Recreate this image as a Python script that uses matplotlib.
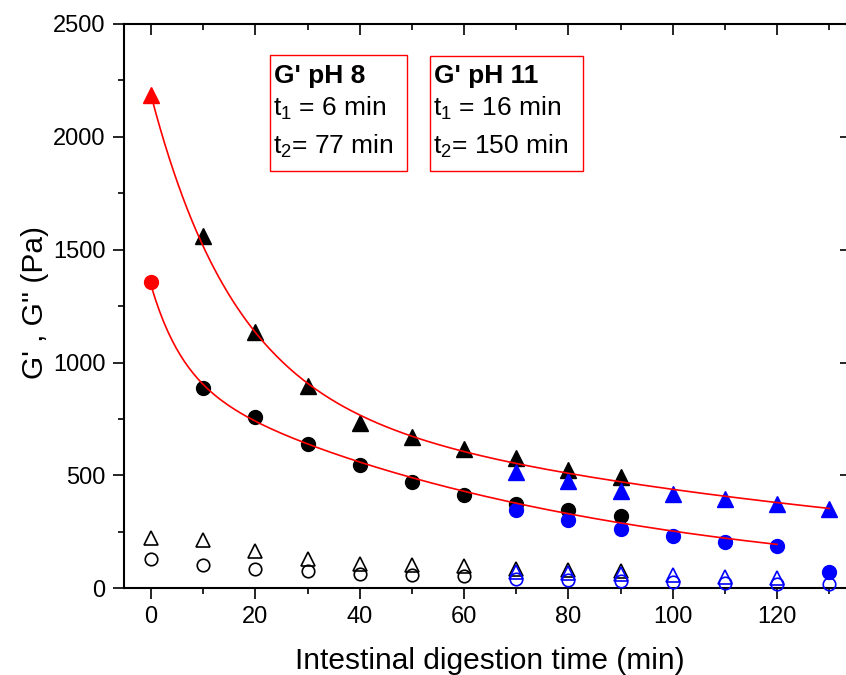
"""
Storage / loss modulus vs intestinal digestion time, with bi-exponential fits.
"""

import matplotlib
matplotlib.use('Agg')
import matplotlib.pyplot as plt
from matplotlib.patches import Rectangle
from matplotlib.ticker import MultipleLocator
import numpy as np

plt.rcParams['font.family'] = ['Liberation Sans', 'DejaVu Sans']
plt.rcParams['mathtext.fontset'] = 'custom'
plt.rcParams['mathtext.rm'] = 'Liberation Sans'

# --- data (time in min, modulus in Pa) ---
# triangles = pH 11, circles = pH 8; filled = G', open = G''
t_black = [0, 10, 20, 30, 40, 50, 60, 70, 80, 90]
t_blue = [70, 80, 90, 100, 110, 120, 130]

gp_ph11_black = [2185, 1560, 1135, 895, 731, 669, 616, 578, 526, 494]
gp_ph11_blue = [515, 476, 430, 417, 395, 375, 353]
gp_ph8_black = [1356, 887, 758, 638, 545, 470, 412, 375, 346, 319]
gp_ph8_blue = [349, 301, 261, 232, 205, 188, 72]

gpp_ph11_black = [223, 216, 166, 132, 109, 105, 98, 87, 80, 75]
t_gpp_ph11_blue = [70, 80, 90, 100, 110, 120]
gpp_ph11_blue = [72, 68, 65, 58, 50, 47]
t_gpp_ph8_black = [0, 10, 20, 30, 40, 50, 60]
gpp_ph8_black = [129, 105, 87, 75, 62, 58, 53]
gpp_ph8_blue = [43, 38, 32, 28, 24, 21, 18]

# bi-exponential fit parameters: G = A1 exp(-t/t1) + A2 exp(-t/t2) + C
fit_ph11 = dict(A1=1318, t1=16, A2=886, t2=150, C=-19, tmax=130)
fit_ph8 = dict(A1=400, t1=6, A2=948, t2=77, C=-5, tmax=120)


def biexp(p):
    t = np.linspace(0, p['tmax'], 300)
    return t, p['A1'] * np.exp(-t / p['t1']) + p['A2'] * np.exp(-t / p['t2']) + p['C']


W, H = 846, 675
fig = plt.figure(figsize=(W / 100, H / 100), dpi=100)
ax = fig.add_axes([123.5 / W, 1 - 588.3 / H, (W - 123.5) / W, (588.3 - 24) / H])

ms_tri, ms_circ = 11.5, 10
ms_open_tri, ms_open_circ = 10.5, 9
mew = 1.2

# open symbols (G'')
ax.plot(t_black, gpp_ph11_black, ls='none', marker='^', ms=ms_open_tri,
        mfc='none', mec='black', mew=mew, zorder=3)
ax.plot(t_gpp_ph8_black, gpp_ph8_black, ls='none', marker='o', ms=ms_open_circ,
        mfc='none', mec='black', mew=mew, zorder=3)
ax.plot(t_gpp_ph11_blue, gpp_ph11_blue, ls='none', marker='^', ms=ms_open_tri,
        mfc='none', mec='blue', mew=mew, zorder=4)
ax.plot(t_blue, gpp_ph8_blue, ls='none', marker='o', ms=ms_open_circ,
        mfc='none', mec='blue', mew=mew, zorder=4, clip_on=False)

# filled symbols (G'); first point drawn in red
ax.plot(t_black[1:], gp_ph11_black[1:], ls='none', marker='^', ms=ms_tri,
        color='black', zorder=3)
ax.plot(t_black[:1], gp_ph11_black[:1], ls='none', marker='^', ms=ms_tri,
        color='red', zorder=3)
ax.plot(t_black[1:], gp_ph8_black[1:], ls='none', marker='o', ms=ms_circ,
        color='black', zorder=3)
ax.plot(t_black[:1], gp_ph8_black[:1], ls='none', marker='o', ms=ms_circ,
        color='red', zorder=3)
ax.plot(t_blue, gp_ph11_blue, ls='none', marker='^', ms=ms_tri,
        color='blue', zorder=4)
ax.plot(t_blue, gp_ph8_blue, ls='none', marker='o', ms=ms_circ,
        color='blue', zorder=4)

# fitted curves
for p in (fit_ph11, fit_ph8):
    t, g = biexp(p)
    ax.plot(t, g, color='red', lw=1.2, zorder=5)

ax.set_xlim((123.5 - 151) / 5.217, (W - 151) / 5.217)
ax.set_ylim(0, 2500)

ax.xaxis.set_major_locator(MultipleLocator(20))
ax.xaxis.set_minor_locator(MultipleLocator(10))
ax.yaxis.set_major_locator(MultipleLocator(500))
ax.yaxis.set_minor_locator(MultipleLocator(250))

for s in ('left', 'bottom', 'top'):
    ax.spines[s].set_linewidth(1.5)
ax.spines['right'].set_visible(False)

ax.tick_params(axis='both', which='major', direction='out', length=8, width=1.2,
               labelsize=17, pad=5)
ax.tick_params(axis='both', which='minor', direction='out', length=4, width=1.2)
ax.tick_params(axis='x', which='both', top=True)
# top ticks point inward
for tk in ax.xaxis.get_major_ticks() + ax.xaxis.get_minor_ticks():
    tk.tick2line.set_marker(3)
ax.tick_params(axis='y', which='major', right=True)
for tk in ax.yaxis.get_major_ticks():
    tk.tick2line.set_marker(0)
    tk.tick2line.set_markersize(4)

fig.text(35 / W, 1 - 302 / H, "G' , G'' (Pa)", rotation=90, ha='center', va='center',
         fontsize=21.5)
fig.text(490 / W, 1 - 661 / H, 'Intestinal digestion time (min)', ha='center',
         va='center', fontsize=21.5)

# annotation boxes
boxes = [
    (270, 55, 407, 171, "G' pH 8", '$\\mathregular{t_1}$ = 6 min', '$\\mathregular{t_2}$= 77 min'),
    (430, 56, 583, 171, "G' pH 11", '$\\mathregular{t_1}$ = 16 min', '$\\mathregular{t_2}$= 150 min'),
]
for x0, y0, x1, y1, title, l1, l2 in boxes:
    fig.add_artist(Rectangle((x0 / W, 1 - y1 / H), (x1 - x0) / W, (y1 - y0) / H,
                             transform=fig.transFigure, fill=False,
                             edgecolor='red', linewidth=1))
    fig.text((x0 + 4) / W, 1 - 76 / H, title, ha='left', va='center',
             fontsize=19, fontweight='bold')
    fig.text((x0 + 3) / W, 1 - 108 / H, l1, ha='left', va='center', fontsize=19)
    fig.text((x0 + 3) / W, 1 - 146 / H, l2, ha='left', va='center', fontsize=19)

fig.savefig('out.png', dpi=100, facecolor='white')
